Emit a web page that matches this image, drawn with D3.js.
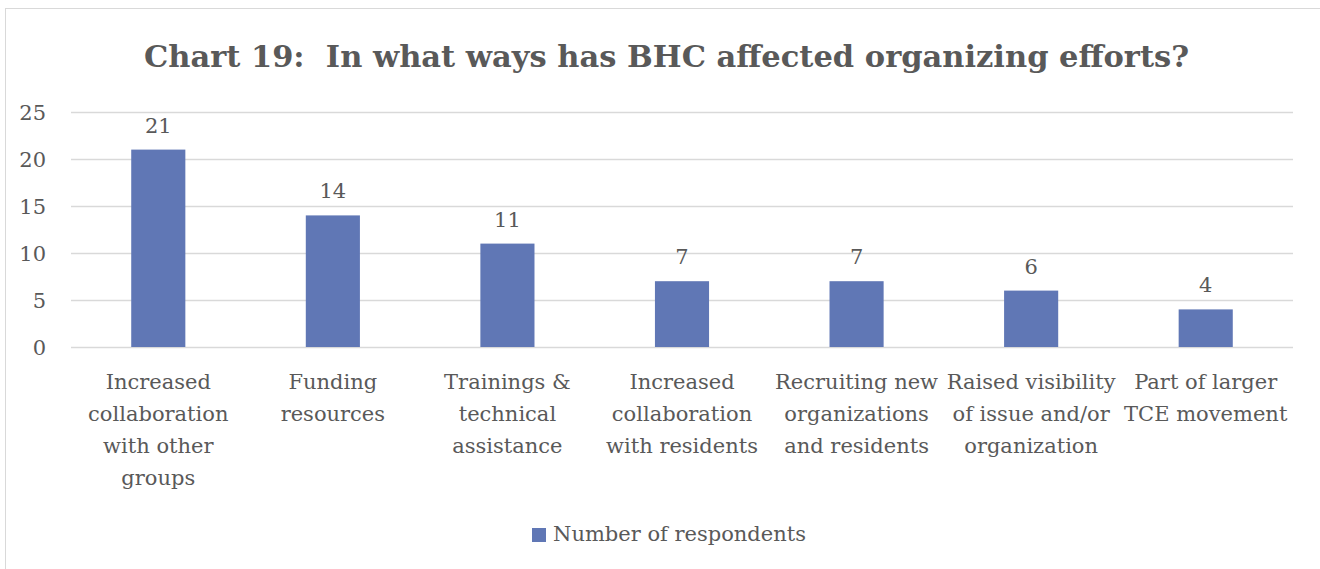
<!DOCTYPE html>
<html>
<head>
<meta charset="utf-8">
<script src="https://cdn.jsdelivr.net/npm/d3@7"></script>
<style>
  html, body { margin: 0; padding: 0; background: #fff; }
  svg text { font-family: "DejaVu Serif", serif; fill: #595959; white-space: pre; }
</style>
</head>
<body>
<svg id="chart" width="1320" height="569"></svg>
<script>
// Survey responses: ways BHC affected organizing efforts
const categories = [
  "Increased collaboration with other groups",
  "Funding resources",
  "Trainings & technical assistance",
  "Increased collaboration with residents",
  "Recruiting new organizations and residents",
  "Raised visibility of issue and/or organization",
  "Part of larger TCE movement"
];
const categoryLines = [
  ["Increased", "collaboration", "with other", "groups"],
  ["Funding", "resources"],
  ["Trainings &", "technical", "assistance"],
  ["Increased", "collaboration", "with residents"],
  ["Recruiting new", "organizations", "and residents"],
  ["Raised visibility", "of issue and/or", "organization"],
  ["Part of larger", "TCE movement"]
];
const respondents = [21, 14, 11, 7, 7, 6, 4];
const yTicks = [0, 5, 10, 15, 20, 25];
const seriesName = "Number of respondents";
const titleText = "Chart 19:  In what ways has BHC affected organizing efforts?";

const svg = d3.select("#chart");
const W = 1320, H = 569;
const plot = { left: 71, right: 1293, top: 112, bottom: 347 };
const barColor = "#6077b5";
const gridColor = "#d9d9d9";
const labelSize = "21px";

// chart area frame
svg.append("rect")
  .attr("x", 5.5).attr("y", 8.5)
  .attr("width", W + 10).attr("height", H + 10)
  .attr("fill", "#fff").attr("stroke", "#d9d9d9").attr("stroke-width", 1);

// title
svg.append("text")
  .attr("x", (148 + 1185) / 2).attr("y", 67)
  .attr("text-anchor", "middle")
  .style("font-size", "30.5px").style("font-weight", "bold")
  .text(titleText);

const x = d3.scaleBand().domain(categories).range([plot.left, plot.right]).padding(0);
const y = d3.scaleLinear().domain([0, 25]).range([plot.bottom, plot.top]);
const barW = x.bandwidth() * 0.31;

// horizontal gridlines
svg.append("g").selectAll("line").data(yTicks).join("line")
  .attr("x1", plot.left).attr("x2", plot.right)
  .attr("y1", d => Math.round(y(d)) + 0.5).attr("y2", d => Math.round(y(d)) + 0.5)
  .attr("stroke", gridColor).attr("stroke-width", 1.5);

// y axis labels
const yAxis = d3.axisLeft(y).tickValues(yTicks).tickSize(0).tickPadding(0);
const gy = svg.append("g").attr("transform", `translate(46,0)`).call(yAxis);
gy.select(".domain").remove();
gy.selectAll("text")
  .style("font-size", labelSize).style("font-family", "\"DejaVu Serif\", serif")
  .attr("fill", "#595959").attr("dy", "0.35em");

// bars
svg.append("g").selectAll("rect").data(respondents).join("rect")
  .attr("x", (d, i) => x(categories[i]) + x.bandwidth() / 2 - barW / 2)
  .attr("y", d => y(d))
  .attr("width", barW)
  .attr("height", d => y(0) - y(d))
  .attr("fill", barColor);

// value labels
svg.append("g").selectAll("text").data(respondents).join("text")
  .attr("x", (d, i) => x(categories[i]) + x.bandwidth() / 2)
  .attr("y", d => y(d) - 17)
  .attr("text-anchor", "middle")
  .style("font-size", labelSize)
  .text(d => d);

// category labels
const cat = svg.append("g").selectAll("text").data(categoryLines).join("text")
  .attr("text-anchor", "middle")
  .style("font-size", labelSize);
cat.each(function (lines, i) {
  const t = d3.select(this);
  lines.forEach((ln, j) => {
    t.append("tspan")
      .attr("x", x(categories[i]) + x.bandwidth() / 2)
      .attr("y", 389 + j * 32)
      .text(ln);
  });
});

// legend
const lg = svg.append("g");
lg.append("rect").attr("x", 532).attr("y", 528).attr("width", 14).attr("height", 14).attr("fill", barColor);
lg.append("text").attr("x", 553).attr("y", 541).style("font-size", labelSize).text(seriesName);
</script>
</body>
</html>
